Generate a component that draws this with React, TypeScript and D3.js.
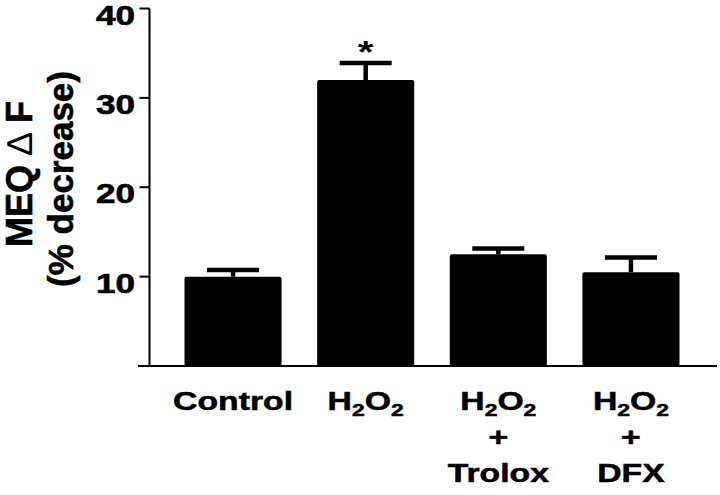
import React, { useRef, useEffect } from 'react';
import * as d3 from 'd3';

const categories = ['Control', 'H2O2', 'H2O2 + Trolox', 'H2O2 + DFX'];
const values = [10.0, 32.0, 12.5, 10.5];
const errors = [0.73, 1.9, 0.65, 1.65];
const significant = [false, true, false, false];
const yTicks = [10, 20, 30, 40];
const labelLines = [['Control'], ['H2O2'], ['H2O2', '+', 'Trolox'], ['H2O2', '+', 'DFX']];

const FONT = '"Liberation Sans", Arial, Helvetica, sans-serif';

const App = () => {
  const svgRef = useRef(null);

  useEffect(() => {
    const svg = d3.select(svgRef.current);
    svg.selectAll('*').remove();

    const y = d3.scaleLinear().domain([0, 40]).range([366, 8.5]);
    const x = d3.scaleBand<string>()
      .domain(categories)
      .range([166.6, 697.4])
      .paddingInner(0.268)
      .paddingOuter(0.135);

    const axisX = 149.5;

    // axes
    svg.append('line')
      .attr('x1', 138).attr('x2', 717)
      .attr('y1', y(0)).attr('y2', y(0))
      .attr('stroke', '#000').attr('stroke-width', 2);
    svg.append('line')
      .attr('x1', axisX).attr('x2', axisX)
      .attr('y1', y(40)).attr('y2', y(0))
      .attr('stroke', '#000').attr('stroke-width', 2);

    svg.selectAll('line.tick')
      .data(yTicks)
      .enter().append('line')
      .attr('class', 'tick')
      .attr('x1', axisX - 10).attr('x2', axisX)
      .attr('y1', d => y(d)).attr('y2', d => y(d))
      .attr('stroke', '#000').attr('stroke-width', 2);

    svg.selectAll('g.ticklabel')
      .data(yTicks)
      .enter().append('g')
      .attr('class', 'ticklabel')
      .attr('transform', d => `translate(135, ${y(d) + 16}) scale(1.3, 1)`)
      .append('text')
      .attr('text-anchor', 'end')
      .style('font-family', FONT)
      .style('font-weight', 'bold')
      .style('font-size', '27px')
      .style('stroke', '#000')
      .style('stroke-width', 0.6)
      .text(d => d);

    // bars
    svg.selectAll('rect.bar')
      .data(values)
      .enter().append('rect')
      .attr('class', 'bar')
      .attr('x', (d, i) => x(categories[i]))
      .attr('y', d => y(d))
      .attr('width', x.bandwidth())
      .attr('height', d => y(0) - y(d))
      .attr('rx', 2)
      .attr('fill', '#000');

    // error bars
    const cx = (i) => x(categories[i]) + x.bandwidth() / 2;
    values.forEach((v, i) => {
      const top = y(v + errors[i]);
      svg.append('line')
        .attr('x1', cx(i)).attr('x2', cx(i))
        .attr('y1', y(v)).attr('y2', top)
        .attr('stroke', '#000').attr('stroke-width', 4.5);
      svg.append('line')
        .attr('x1', cx(i) - 26).attr('x2', cx(i) + 26)
        .attr('y1', top).attr('y2', top)
        .attr('stroke', '#000').attr('stroke-width', 4.5);
      if (significant[i]) {
        svg.append('g')
          .attr('transform', `translate(${cx(i)}, ${top - 0.5}) scale(1.3, 1)`)
          .append('text')
          .attr('text-anchor', 'middle')
          .style('font-family', FONT)
          .style('font-weight', 'bold')
          .style('font-size', '31px')
          .text('*');
      }
    });

    // category labels
    labelLines.forEach((lines, i) => {
      lines.forEach((line, j) => {
        const t = svg.append('g')
          .attr('transform', `translate(${cx(i)}, ${410 + j * 36}) scale(1.35, 1)`)
          .append('text')
          .attr('text-anchor', 'middle')
          .style('font-family', FONT)
          .style('font-weight', 'bold')
          .style('font-size', '25px')
          .style('stroke', '#000')
          .style('stroke-width', 0.5);
        if (line === 'H2O2') {
          t.append('tspan').text('H');
          t.append('tspan').attr('dy', 6).style('font-size', '17px').text('2');
          t.append('tspan').attr('dy', -6).text('O');
          t.append('tspan').attr('dy', 6).style('font-size', '17px').text('2');
        } else {
          t.text(line);
        }
      });
    });

    // y axis title
    const t1 = svg.append('text')
      .attr('transform', 'translate(32, 174) rotate(-90)')
      .attr('text-anchor', 'middle')
      .style('font-family', FONT)
      .style('font-weight', 'bold')
      .style('font-size', '36px')
      .style('stroke', '#000')
      .style('stroke-width', 0.6);
    t1.append('tspan').text('MEQ ');
    t1.append('tspan').style('font-weight', 'normal').style('stroke-width', 0).text('∆');
    t1.append('tspan').text(' F');

    svg.append('text')
      .attr('transform', 'translate(73, 179) rotate(-90)')
      .attr('text-anchor', 'middle')
      .style('font-family', FONT)
      .style('font-weight', 'bold')
      .style('font-size', '35px')
      .style('stroke', '#000')
      .style('stroke-width', 0.6)
      .text('(% decrease)');
  }, []);

  return (
    <svg ref={svgRef} width={720} height={495}
      style={{ position: 'absolute', left: 0, top: 0, background: '#fff' }} />
  );
};

export default App;
